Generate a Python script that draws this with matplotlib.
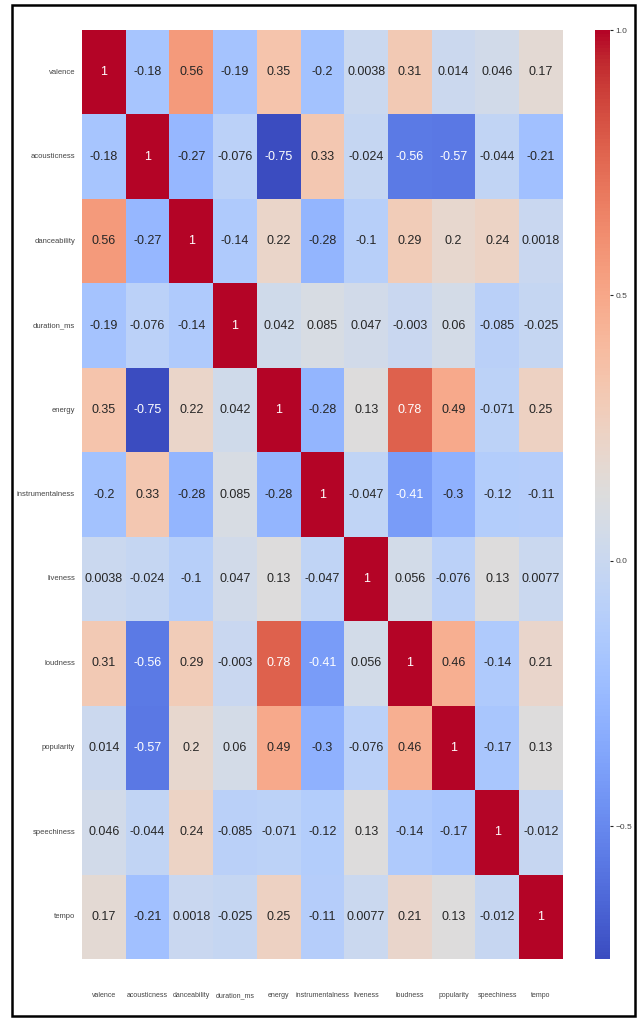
import matplotlib
matplotlib.use("Agg")
import matplotlib.pyplot as plt
from matplotlib.patches import Rectangle
import pandas as pd
import seaborn as sns


features = ["valence", "acousticness", "danceability", "duration_ms", "energy",
            "instrumentalness", "liveness", "loudness", "popularity",
            "speechiness", "tempo"]

valence = [1, -0.18, 0.56, -0.19, 0.35, -0.2, 0.0038, 0.31, 0.014, 0.046, 0.17]
acousticness = [-0.18, 1, -0.27, -0.076, -0.75, 0.33, -0.024, -0.56, -0.57, -0.044, -0.21]
danceability = [0.56, -0.27, 1, -0.14, 0.22, -0.28, -0.1, 0.29, 0.2, 0.24, 0.0018]
duration_ms = [-0.19, -0.076, -0.14, 1, 0.042, 0.085, 0.047, -0.003, 0.06, -0.085, -0.025]
energy = [0.35, -0.75, 0.22, 0.042, 1, -0.28, 0.13, 0.78, 0.49, -0.071, 0.25]
instrumentalness = [-0.2, 0.33, -0.28, 0.085, -0.28, 1, -0.047, -0.41, -0.3, -0.12, -0.11]
liveness = [0.0038, -0.024, -0.1, 0.047, 0.13, -0.047, 1, 0.056, -0.076, 0.13, 0.0077]
loudness = [0.31, -0.56, 0.29, -0.003, 0.78, -0.41, 0.056, 1, 0.46, -0.14, 0.21]
popularity = [0.014, -0.57, 0.2, 0.06, 0.49, -0.3, -0.076, 0.46, 1, -0.17, 0.13]
speechiness = [0.046, -0.044, 0.24, -0.085, -0.071, -0.12, 0.13, -0.14, -0.17, 1, -0.012]
tempo = [0.17, -0.21, 0.0018, -0.025, 0.25, -0.11, 0.0077, 0.21, 0.13, -0.012, 1]

rows = [valence, acousticness, danceability, duration_ms, energy,
        instrumentalness, liveness, loudness, popularity, speechiness, tempo]
corr = pd.DataFrame(rows, index=features, columns=features)

sns.set_style("white")
plt.rcParams["font.family"] = ["Liberation Sans", "DejaVu Sans"]

fig = plt.figure(figsize=(6.41, 10.21), dpi=100)
ax = fig.add_axes([0.128, 0.0607, 0.750, 0.9099])
cax = fig.add_axes([0.928, 0.0607, 0.0234, 0.9099])

sns.heatmap(corr, annot=True, cmap="coolwarm", ax=ax, cbar_ax=cax,
            annot_kws={"fontsize": 9})

ax.tick_params(axis="both", length=0, labelcolor="#444444")
ax.set_xticklabels(features, rotation=0, fontsize=5)
ax.set_yticklabels(features, rotation=0, fontsize=5.5)
ax.tick_params(axis="x", pad=24)
ax.tick_params(axis="y", pad=5)

cax.set_yticks([-0.5, 0.0, 0.5, 1.0])
cax.tick_params(labelsize=6, length=2.5, width=0.8, pad=1.5, labelcolor="#444444")

# frame around the whole figure
fig.patches.append(Rectangle((0.019, 0.005), 0.972, 0.99, transform=fig.transFigure,
                             fill=False, edgecolor="black", linewidth=1.8))

fig.savefig("out.png", dpi=100, facecolor="white")
